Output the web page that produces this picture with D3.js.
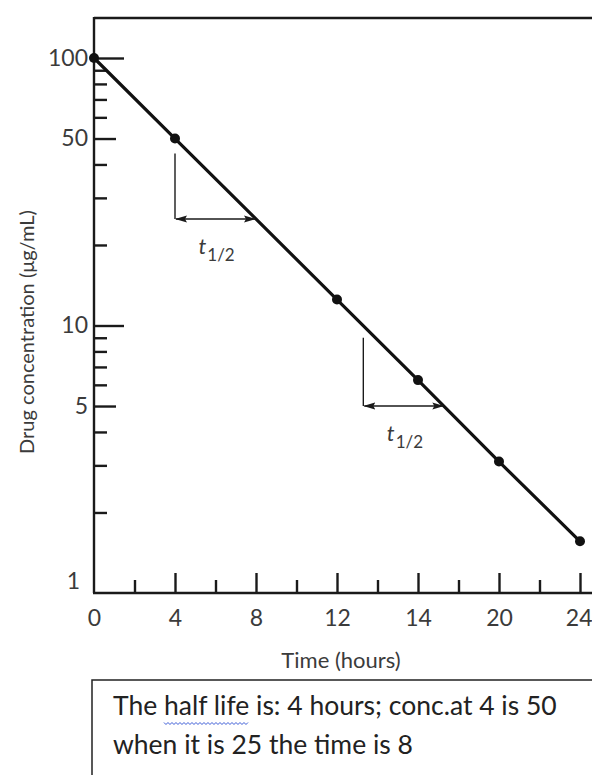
<!DOCTYPE html>
<html>
<head>
<meta charset="utf-8">
<script src="https://cdn.jsdelivr.net/npm/d3@7"></script>
<style>
  body { margin: 0; background: #fff; }
  svg { display: block; }
  .axis path, .axis line { stroke: #1a1a1a; stroke-width: 2.4; }
  .axis text { fill: #3b3b3b; font-family: Lato, sans-serif; font-size: 23px; }
  .label { fill: #3b3b3b; font-family: Lato, sans-serif; }
  .note { fill: #222; font-family: Lato, sans-serif; font-size: 26.5px; }
</style>
</head>
<body>
<script>

// time (hours) and concentration (ug/mL)
var times = [0, 4, 12, 16, 20, 24],
    concs = [100, 50, 12.5, 6.25, 3.1, 1.56];

var xTicks = [0, 4, 8, 12, 16, 20, 24],
    xTickLabels = ['0', '4', '8', '12', '14', '20', '24'],   // the book prints "14"
    xMinor = [2, 6, 10, 14, 18, 22];

var yLabelled = [1, 5, 10, 50, 100],
    yMinor = [2, 3, 4, 6, 7, 8, 9, 20, 30, 40, 60, 70, 80, 90];

// half-life brackets: start time, top of drop line, concentration of the arrow
var halfStart = [4, 13.3],
    halfTop = [44, 9],
    halfConc = [25, 5],
    halfLife = 4;

var noteLines = ['The half life is: 4 hours; conc.at 4 is 50',
                 'when it is 25 the time is 8'];

var width = 592,
    height = 775;

var svg = d3.select('body').append('svg')
    .attr('width', width)
    .attr('height', height);

var x = d3.scaleLinear().domain([0, 24]).range([94, 580]);
var y = d3.scaleLog().domain([1, 100]).range([593, 58]);

var defs = svg.append('defs');
defs.append('marker')
    .attr('id', 'arrow')
    .attr('viewBox', '0 -4 12 8')
    .attr('refX', 11)
    .attr('refY', 0)
    .attr('markerUnits', 'userSpaceOnUse')
    .attr('markerWidth', 12)
    .attr('markerHeight', 8)
    .attr('orient', 'auto-start-reverse')
  .append('path')
    .attr('d', 'M0,-3.5L12,0L0,3.5L2,0Z')
    .attr('fill', '#1a1a1a');

// frame: top line and left axis
svg.append('line')
    .attr('x1', x(0)).attr('x2', width)
    .attr('y1', 18).attr('y2', 18)
    .attr('stroke', '#1a1a1a').attr('stroke-width', 2.4);
svg.append('line')
    .attr('x1', x(0)).attr('x2', x(0))
    .attr('y1', 17).attr('y2', y(1))
    .attr('stroke', '#1a1a1a').attr('stroke-width', 2.4);

// x axis
var xAxis = svg.append('g')
    .attr('class', 'axis')
    .attr('transform', 'translate(0,' + y(1) + ')')
    .call(d3.axisBottom(x)
        .tickValues(xTicks)
        .tickSize(-20)
        .tickPadding(17)
        .tickFormat(function(d, i) { return xTickLabels[i]; }));
xAxis.select('.domain').attr('d', 'M' + (x(0) - 1) + ',0H' + width);
xAxis.selectAll('.tick').filter(function(d) { return d === 0; }).select('line').remove();
xAxis.selectAll('text').attr('dy', '0.71em');
// keep the last label inside the page
xAxis.selectAll('.tick').filter(function(d) { return d === 24; }).select('text')
    .attr('text-anchor', 'end').attr('x', 12);

svg.append('g')
    .attr('class', 'axis')
    .attr('transform', 'translate(0,' + y(1) + ')')
    .call(d3.axisBottom(x).tickValues(xMinor).tickSize(-13).tickFormat(''))
    .select('.domain').remove();

// y axis
var yAxis = svg.append('g')
    .attr('class', 'axis')
    .attr('transform', 'translate(' + x(0) + ',0)')
    .call(d3.axisLeft(y)
        .tickValues(yLabelled)
        .tickSize(-21)
        .tickPadding(6)
        .tickFormat(d3.format('d')));
yAxis.select('.domain').remove();
yAxis.selectAll('.tick line')
    .attr('x2', function(d) { return d === 1 ? 0 : (d === 10 || d === 100 ? 30 : 22); });
yAxis.selectAll('.tick').filter(function(d) { return d === 1; }).select('text')
    .attr('x', -14).attr('dy', '-0.2em');

svg.append('g')
    .attr('class', 'axis')
    .attr('transform', 'translate(' + x(0) + ',0)')
    .call(d3.axisLeft(y).tickValues(yMinor).tickSize(-13).tickFormat(''))
    .select('.domain').remove();

// axis titles
svg.append('text')
    .attr('class', 'label')
    .attr('x', 341)
    .attr('y', 668)
    .attr('text-anchor', 'middle')
    .style('font-size', '22px')
    .text('Time (hours)');

svg.append('text')
    .attr('class', 'label')
    .attr('transform', 'translate(34,332) rotate(-90)')
    .attr('text-anchor', 'middle')
    .style('font-size', '20px')
    .text('Drug concentration (\u03bcg/mL)');

// decay line and points
var points = times.map(function(t, i) { return [t, concs[i]]; });

svg.append('path')
    .datum(points)
    .attr('fill', 'none')
    .attr('stroke', '#111')
    .attr('stroke-width', 3.2)
    .attr('d', d3.line()
        .x(function(d) { return x(d[0]); })
        .y(function(d) { return y(d[1]); }));

svg.selectAll('circle.pt')
    .data(points)
  .enter().append('circle')
    .attr('class', 'pt')
    .attr('cx', function(d) { return x(d[0]); })
    .attr('cy', function(d) { return y(d[1]); })
    .attr('r', 5)
    .attr('fill', '#111');

// half-life brackets
var half = svg.selectAll('g.half')
    .data(halfStart)
  .enter().append('g')
    .attr('class', 'half');

half.append('line')
    .attr('x1', function(d) { return x(d); })
    .attr('x2', function(d) { return x(d); })
    .attr('y1', function(d, i) { return y(halfTop[i]); })
    .attr('y2', function(d, i) { return y(halfConc[i]); })
    .attr('stroke', '#1a1a1a')
    .attr('stroke-width', 1.4);

half.append('line')
    .attr('x1', function(d) { return x(d) + 1; })
    .attr('x2', function(d) { return x(d + halfLife) - 1; })
    .attr('y1', function(d, i) { return y(halfConc[i]); })
    .attr('y2', function(d, i) { return y(halfConc[i]); })
    .attr('stroke', '#1a1a1a')
    .attr('stroke-width', 1.4)
    .attr('marker-start', 'url(#arrow)')
    .attr('marker-end', 'url(#arrow)');

var tl = half.append('text')
    .attr('class', 'label')
    .attr('x', function(d) { return x(d + halfLife / 2) - 17; })
    .attr('y', function(d, i) { return y(halfConc[i]) + 35; });
tl.append('tspan')
    .style('font-size', '22px')
    .style('font-style', 'italic')
    .text('t');
tl.append('tspan')
    .attr('dy', 7)
    .attr('dx', 1)
    .style('font-size', '17px')
    .text('1/2');

// note box
svg.append('rect')
    .attr('x', 92)
    .attr('y', 680)
    .attr('width', width)
    .attr('height', 200)
    .attr('fill', '#fff')
    .attr('stroke', '#222')
    .attr('stroke-width', 1.5);

var note = svg.selectAll('text.note')
    .data(noteLines)
  .enter().append('text')
    .attr('class', 'note')
    .attr('x', 113)
    .attr('y', function(d, i) { return 715 + i * 39; })
    .text(function(d) { return d; });

// spell-check squiggle under "half life"
var first = note.node();
var s = noteLines[0].indexOf('half life');
var x0 = first.getStartPositionOfChar(s).x,
    x1 = first.getEndPositionOfChar(s + 8).x;
var zig = [];
for (var k = 0; x0 + k * 2 <= x1; k++) zig.push([x0 + k * 2, 723 + (k % 2 ? 1.5 : -0.5)]);
svg.append('path')
    .attr('d', d3.line()(zig))
    .attr('fill', 'none')
    .attr('stroke', '#3b5bd6')
    .attr('stroke-width', 1);

</script>
</body>
</html>
